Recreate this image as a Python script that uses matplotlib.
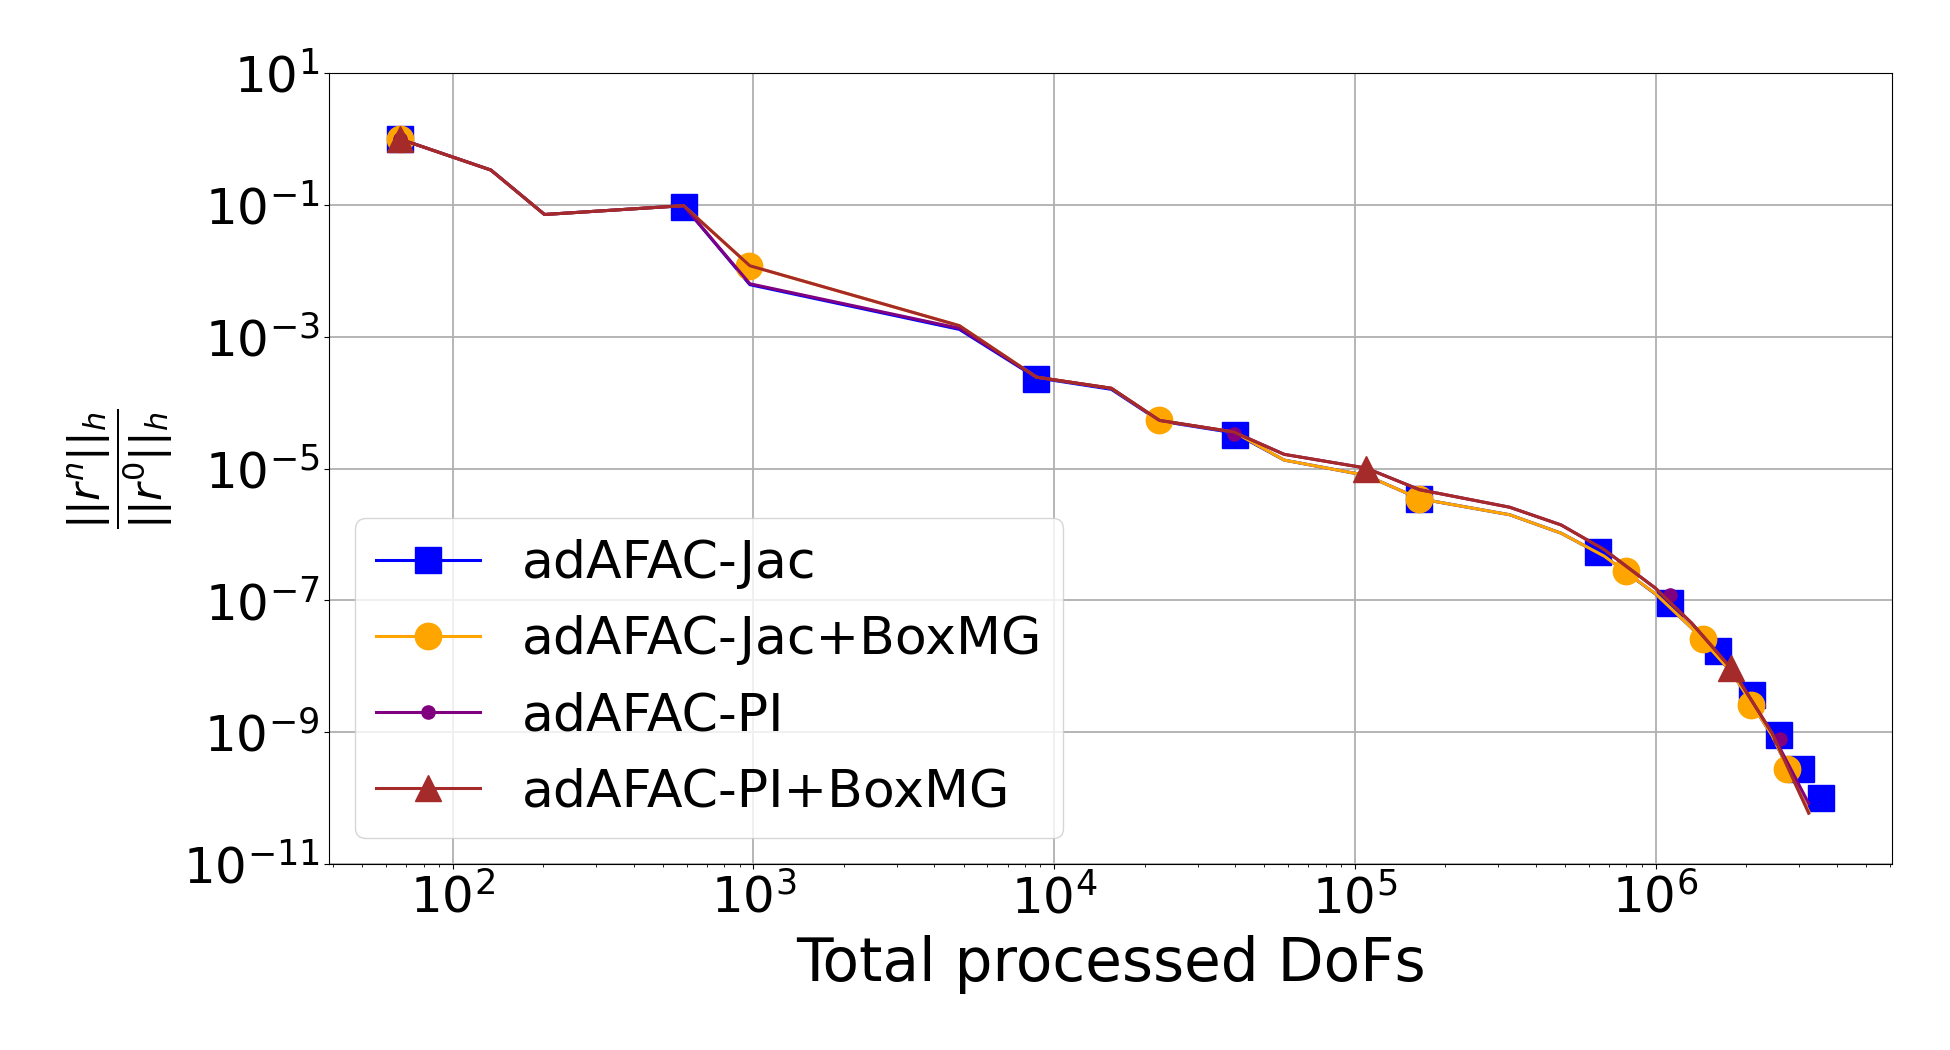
import matplotlib
matplotlib.use("Agg")
from matplotlib import pyplot as plt
from matplotlib.lines import Line2D
from matplotlib.ticker import NullLocator

# Residual history.
# Line vertices (x = total processed DoFs, y = relative residual)
x_line = [67, 134, 202, 586, 973, 4840, 8730, 15500, 22400, 39600, 58200,
          109000, 164000, 327000, 485000, 675000, 1.0e6, 1.32e6, 1.8e6, 2.44e6, 3.23e6]

y_jac = [1.0, 3.4e-1, 7.2e-2, 9.8e-2, 6.2e-3, 1.3e-3, 2.4e-4, 1.6e-4, 5.3e-5, 3.5e-5, 1.35e-5,
         7.9e-6, 3.5e-6, 2.0e-6, 1.05e-6, 4.7e-7, 1.25e-7, 3.8e-8, 7.9e-9, 8.9e-10, 6.3e-11]
y_jac_boxmg = [1.0, 3.4e-1, 7.2e-2, 9.8e-2, 1.2e-2, 1.48e-3, 2.45e-4, 1.66e-4, 5.4e-5, 3.6e-5, 1.35e-5,
               7.9e-6, 3.5e-6, 2.0e-6, 1.05e-6, 4.7e-7, 1.26e-7, 3.8e-8, 7.9e-9, 8.9e-10, 6.3e-11]
y_pi = [1.0, 3.4e-1, 7.2e-2, 9.8e-2, 6.4e-3, 1.35e-3, 2.45e-4, 1.66e-4, 5.4e-5, 3.6e-5, 1.65e-5,
        1.02e-5, 4.8e-6, 2.6e-6, 1.4e-6, 5.9e-7, 1.53e-7, 4.5e-8, 8.9e-9, 9.7e-10, 8.3e-11]
y_pi_boxmg = [1.0, 3.4e-1, 7.2e-2, 9.8e-2, 1.2e-2, 1.48e-3, 2.45e-4, 1.66e-4, 5.4e-5, 3.6e-5, 1.65e-5,
              1.02e-5, 4.8e-6, 2.6e-6, 1.4e-6, 5.9e-7, 1.53e-7, 4.5e-8, 8.9e-9, 9.7e-10, 5.9e-11]

# Marker positions (drawn on top of the lines)
mx_jac = [67, 586, 8690, 40000, 164000, 644000, 1.12e6, 1.61e6, 2.09e6, 2.58e6, 3.05e6, 3.54e6]
my_jac = [1.0, 9.5e-2, 2.3e-4, 3.2e-5, 3.5e-6, 5.5e-7, 9.3e-8, 1.74e-8, 3.7e-9, 9.1e-10, 2.8e-10, 1.0e-10]
mx_jac_boxmg = [67, 970, 22400, 164000, 800000, 1.44e6, 2.08e6, 2.73e6]
my_jac_boxmg = [1.0, 1.2e-2, 5.4e-5, 3.5e-6, 2.8e-7, 2.6e-8, 2.6e-9, 2.8e-10]
mx_pi = [67, 39600, 1.12e6, 2.6e6]
my_pi = [1.0, 3.4e-5, 1.2e-7, 7.9e-10]
mx_pi_boxmg = [67, 109000, 1.78e6]
my_pi_boxmg = [1.0, 1.0e-5, 9.3e-9]

labels = ["adAFAC-Jac", "adAFAC-Jac+BoxMG", "adAFAC-PI", "adAFAC-PI+BoxMG"]
colors = ["blue", "orange", "purple", "brown"]
markers = ["s", "o", ".", "^"]


def main():
	fig = plt.figure(figsize=(19.5, 10.5), dpi=100)
	ax = fig.add_axes([0.1689, 0.1771, 0.9701 - 0.1689, 0.9302 - 0.1771])

	lines = [y_jac, y_jac_boxmg, y_pi, y_pi_boxmg]
	marks = [(mx_jac, my_jac), (mx_jac_boxmg, my_jac_boxmg), (mx_pi, my_pi), (mx_pi_boxmg, my_pi_boxmg)]

	handles = []
	for ys, (mx, my), c, m, lab in zip(lines, marks, colors, markers, labels):
		ax.plot(x_line, ys, color=c, lw=2.2)
		ax.plot(mx, my, color=c, marker=m, ms=19, linestyle="none")
		handles.append(Line2D([], [], color=c, marker=m, ms=19, lw=2.2, label=lab))

	ax.set_xscale("log")
	ax.set_yscale("log")
	ax.set_ylim(1e-11, 1e1)
	ax.set_yticks([1e1, 1e-1, 1e-3, 1e-5, 1e-7, 1e-9, 1e-11])
	ax.yaxis.set_minor_locator(NullLocator())

	ax.grid(True, which="major", color="#b0b0b0", lw=1.3)
	ax.tick_params(labelsize=36)
	ax.set_xlabel("Total processed DoFs", fontsize=43, labelpad=8)
	ax.set_ylabel(r"$\dfrac{||r^n||_h}{||r^0||_h}$", fontsize=31)
	ax.yaxis.set_label_coords(-0.099, 0.5)

	ax.legend(handles=handles, loc="lower left", fontsize=37.5)

	fig.savefig("out.png", dpi=100)


if __name__ == "__main__":
	main()
